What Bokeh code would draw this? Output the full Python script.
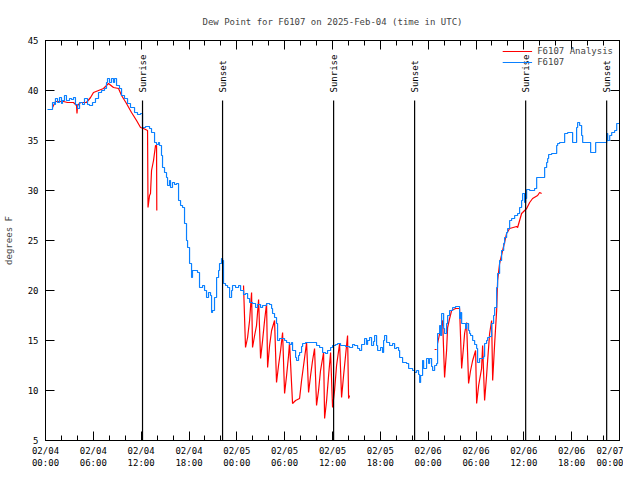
import math
from bokeh.plotting import figure
from bokeh.models import FixedTicker, LinearAxis, Range1d, Legend, LegendItem
from bokeh.core.properties import value
from bokeh.embed import file_html
from bokeh.resources import INLINE

NAN = float("nan")

TITLE = "Dew Point for F6107 on 2025-Feb-04 (time in UTC)"
Y_LABEL = "degrees F"

# x tick positions (hours since 02/04 00:00 UTC) and labels
x_major = [0, 6, 12, 18, 24, 30, 36, 42, 48, 54, 60, 66, 72]
x_minor = list(range(0, 73, 2))
x_labels = ["02/04\n00:00", "02/04\n06:00", "02/04\n12:00", "02/04\n18:00",
            "02/05\n00:00", "02/05\n06:00", "02/05\n12:00", "02/05\n18:00",
            "02/06\n00:00", "02/06\n06:00", "02/06\n12:00", "02/06\n18:00",
            "02/07\n00:00"]
y_ticks = [5, 10, 15, 20, 25, 30, 35, 40, 45]

# Sun events (hours since 02/04 00:00 UTC)
sun_hours = [12.17, 22.21, 36.14, 46.30, 60.23, 70.39]
sun_labels = ["Sunrise", "Sunset", "Sunrise", "Sunset", "Sunrise", "Sunset"]

# F6107 observations
obs_hours = [
    0.25, 0.75, 0.88, 1.13, 1.25, 1.51, 1.76, 2.01, 2.13, 2.38,
    2.63, 3.01, 3.26, 3.51, 3.76, 4.02, 4.27, 4.64, 4.89, 5.27,
    5.52, 5.90, 6.27, 6.65, 7.03, 7.40, 7.65, 7.78, 8.03, 8.28,
    8.53, 8.66, 8.91, 9.28, 9.54, 9.91, 10.29, 10.66, 11.17, 11.54,
    11.92, 12.17, 12.55, 13.05, 13.30, 13.68, 13.93, 14.18, 14.30, 14.55,
    14.68, 14.93, 15.18, 15.31, 15.56, 15.68, 15.93, 16.19, 16.44, 16.69,
    16.94, 17.19, 17.44, 17.69, 17.82, 18.07, 18.32, 18.44, 18.82, 19.07,
    19.32, 19.70, 19.95, 20.20, 20.45, 20.70, 20.83, 20.95, 21.20, 21.46,
    21.71, 21.83, 22.08, 22.21, 22.33, 22.58, 22.84, 23.09, 23.34, 23.46,
    23.84, 24.22, 24.47, 24.72, 24.84, 25.09, 25.35, 25.60, 25.97, 26.35,
    26.60, 26.98, 27.23, 27.48, 27.73, 28.11, 28.36, 28.48, 28.73, 28.98,
    29.11, 29.36, 29.61, 29.99, 30.24, 30.61, 30.87, 30.99, 31.37, 31.49,
    31.74, 31.87, 32.12, 32.25, 32.62, 33.12, 33.63, 34.00, 34.38, 34.76,
    35.13, 35.38, 35.76, 36.01, 36.39, 36.64, 37.01, 37.26, 37.64, 38.14,
    38.52, 38.77, 39.15, 39.40, 39.65, 40.03, 40.28, 40.40, 40.65, 40.90,
    41.15, 41.28, 41.53, 41.66, 42.03, 42.28, 42.41, 42.53, 42.79, 43.16,
    43.54, 43.79, 44.04, 44.29, 44.42, 44.79, 45.04, 45.29, 45.55, 45.80,
    46.05, 46.30, 46.55, 46.80, 46.93, 47.05, 47.30, 47.43, 47.80, 48.06,
    48.18, 48.43, 48.56, 48.81, 49.06, 49.18, 49.44, 49.56, 49.69, 49.94,
    50.06, 50.31, 50.44, 50.69, 51.07, 51.44, 51.82, 51.94, 52.07, 52.20,
    52.45, 52.70, 52.82, 53.07, 53.20, 53.32, 53.58, 53.83, 54.08, 54.20,
    54.45, 54.70, 54.96, 55.08, 55.33, 55.46, 55.71, 55.96, 56.21, 56.34,
    56.59, 56.71, 56.96, 57.21, 57.47, 57.59, 57.84, 57.97, 58.22, 58.47,
    58.85, 59.22, 59.47, 59.72, 59.85, 60.10, 60.23, 60.35, 60.73, 61.10,
    61.35, 61.61, 61.98, 62.36, 62.61, 62.86, 62.99, 63.11, 63.49, 63.86,
    64.12, 64.24, 64.49, 64.87, 65.12, 65.50, 66.00, 66.12, 66.50, 66.62,
    66.75, 67.00, 67.25, 67.38, 67.88, 68.26, 68.38, 68.63, 69.01, 69.51,
    70.14, 70.39, 70.52, 70.77, 71.02, 71.39, 71.65, 71.95,
]
obs_dewpt = [
    38.1, 38.1, 38.8, 38.6, 39.2, 38.8, 39.3, 38.7, 39.0, 39.5,
    39.0, 39.2, 39.1, 39.3, 38.6, 38.2, 38.8, 38.6, 39.2, 38.6,
    38.5, 38.8, 39.2, 39.8, 40.0, 40.2, 40.8, 41.2, 40.8, 41.2,
    40.8, 41.2, 40.5, 40.2, 39.5, 39.2, 38.7, 38.3, 37.8, 37.6,
    37.7, 36.3, 36.4, 36.2, 35.8, 34.8, 34.6, 34.8, 34.5, 33.5,
    32.3, 31.8, 31.3, 30.5, 31.0, 30.3, 30.8, 30.6, 30.7, 29.0,
    28.5, 28.3, 26.7, 25.0, 24.3, 22.7, 21.3, 22.0, 22.0, 21.8,
    20.3, 20.5, 20.0, 19.3, 19.8, 19.5, 17.8, 18.0, 19.3, 21.3,
    22.0, 22.7, 23.2, 23.0, 20.7, 20.5, 20.3, 19.3, 20.0, 20.5,
    20.3, 20.5, 20.0, 20.0, 19.6, 19.7, 19.2, 18.8, 18.7, 18.3,
    18.6, 18.3, 18.5, 18.5, 18.7, 18.6, 18.2, 17.7, 17.3, 16.7,
    15.0, 15.2, 15.2, 15.0, 14.8, 14.6, 14.8, 14.0, 13.3, 13.0,
    13.5, 13.8, 14.4, 14.7, 14.8, 14.8, 14.8, 14.5, 14.3, 13.8,
    13.7, 14.0, 14.3, 14.5, 14.6, 14.7, 14.5, 14.5, 14.4, 14.3,
    14.6, 14.5, 14.2, 14.0, 14.6, 15.2, 14.6, 15.0, 15.3, 14.5,
    14.9, 15.5, 14.5, 14.0, 14.3, 13.8, 15.0, 15.5, 14.8, 14.5,
    14.7, 14.2, 14.3, 14.0, 13.3, 12.8, 12.8, 12.7, 12.2, 12.2,
    12.0, 11.8, 12.0, 11.6, 10.8, 11.5, 13.0, 12.2, 13.2, 12.7,
    13.2, 12.4, 12.0, 12.5, 12.7, 15.7, 16.5, 15.5, 17.7, 16.2,
    15.7, 16.7, 17.5, 18.0, 18.3, 18.4, 18.4, 17.2, 17.8, 16.7,
    16.7, 16.2, 16.7, 16.0, 15.7, 15.5, 15.0, 14.6, 14.2, 12.8,
    13.2, 13.2, 13.4, 14.7, 15.0, 15.3, 15.4, 16.7, 17.5, 18.3,
    20.3, 21.7, 23.0, 24.0, 24.7, 25.3, 25.8, 26.2, 27.0, 27.2,
    27.5, 27.7, 28.3, 29.0, 29.7, 28.8, 29.2, 30.1, 30.0, 30.0,
    30.2, 31.3, 31.3, 31.3, 32.3, 32.8, 33.2, 33.6, 33.7, 33.7,
    34.5, 34.7, 34.8, 34.8, 35.7, 35.8, 35.8, 34.8, 34.8, 36.3,
    36.8, 36.5, 35.5, 34.8, 34.8, 34.8, 33.8, 33.8, 34.8, 34.8,
    34.8, 35.7, 35.0, 35.5, 35.8, 36.0, 36.7, 36.7,
]

# F6107 Analysis (NaN = no analysis -> gap)
ana_hours = [
    0.88, 1.25, 1.76, 2.26, 2.76, 3.51, 3.89, 3.95, 4.02, 4.39,
    5.14, 5.65, 6.02, 6.65, 7.28, 7.90, 8.53, 9.16, 9.54, 10.16,
    10.79, 11.42, 11.92, 12.30, 12.80, 12.86, 13.05, 13.17, 13.30, 13.55,
    13.80, 13.93, 13.96, 13.98,
    24.84, 25.09, 25.35, 25.60, 25.85, 25.97, 26.23, 26.47, 26.73, 26.98,
    27.23, 27.48, 27.73, 27.86, 28.11, 28.36, 28.73, 28.98, 29.23, 29.49,
    29.74, 29.99, 30.24, 30.49, 30.61, 30.99, 31.37, 31.87, 32.12, 32.37,
    32.75, 33.00, 33.25, 33.50, 33.75, 34.00, 34.25, 34.50, 34.88, 35.01,
    35.26, 35.51, 35.76, 36.01, 36.26, 36.51, 36.89, 37.14, 37.39, 37.64,
    37.89, 38.02, 38.14, 38.16,
    48.81, 49.06, 49.08,
    49.18, 49.44, 49.81, 50.06, 50.31, 50.44, 50.69, 50.94, 51.44, 51.94,
    52.20, 52.45, 52.57, 52.82, 53.07, 53.32, 53.58, 53.95, 54.08, 54.33,
    54.70, 54.83, 55.08, 55.33, 55.46, 55.71, 55.96, 56.09, 56.34, 56.59,
    56.71, 56.96, 57.34, 57.84, 58.22, 59.10, 59.22, 59.72, 59.85, 60.35,
    60.73, 61.10, 61.73, 61.98, 62.23,
]
ana_dewpt = [
    38.3, 38.9, 38.9, 38.9, 38.8, 38.8, 38.5, 37.7, 38.5, 38.8,
    38.8, 39.3, 39.8, 40.0, 40.2, 40.7, 40.3, 40.2, 39.5, 38.7,
    37.8, 37.0, 36.3, 36.2, 36.0, 28.3, 29.5, 29.7, 32.0, 33.0,
    34.5, 34.5, 28.0, NAN,
    20.5, 14.3, 15.3, 17.0, 19.8, 14.3, 15.5, 16.5, 19.1, 13.2,
    15.0, 17.0, 18.7, 12.3, 14.5, 16.0, 17.0, 10.8, 12.5, 14.0,
    15.8, 9.7, 11.5, 13.5, 14.8, 8.7, 9.0, 9.2, 11.0, 12.5,
    14.8, 9.8, 11.5, 13.0, 14.2, 8.5, 10.0, 12.0, 13.8, 7.2,
    9.0, 11.5, 13.8, 8.3, 10.0, 12.5, 14.7, 9.3, 11.5, 13.5,
    15.5, 9.2, 9.5, NAN,
    14.1, 14.1, NAN,
    14.7, 15.7, 17.0, 11.3, 14.0, 16.3, 17.2, 18.0, 18.2, 18.2,
    12.2, 14.5, 15.7, 16.8, 10.7, 12.0, 13.0, 14.0, 8.7, 10.5,
    12.2, 14.5, 9.0, 11.5, 13.0, 15.7, 17.0, 11.0, 14.7, 18.0,
    21.0, 22.7, 24.0, 25.7, 26.2, 26.4, 26.3, 27.7, 27.8, 28.2,
    28.8, 29.2, 29.5, 29.8, 29.7,
]

assert len(obs_hours) == len(obs_dewpt)
assert len(ana_hours) == len(ana_dewpt)

FONT = "DejaVu Sans Mono"
FS = "9px"
BLUE = "#0a80ff"
RED = "#ff0000"

Y0, Y1 = 5, 45
SUN_TOP = Y0 + 0.85 * (Y1 - Y0)

p = figure(frame_width=574, frame_height=400, output_backend="svg",
           toolbar_location=None,
           x_range=Range1d(0, 72), y_range=Range1d(Y0, Y1),
           min_border_left=42, min_border_right=4, min_border_top=40,
           min_border_bottom=26, title=TITLE)
p.xgrid.visible = False
p.ygrid.visible = False
p.outline_line_color = "black"
p.outline_line_alpha = 1
p.outline_line_width = 1
p.background_fill_color = "white"
p.border_fill_color = "white"

p.title.text_font = FONT
p.title.text_font_size = FS
p.title.text_font_style = "normal"
p.title.align = "center"
p.title.standoff = 28


def style(ax, minor=True):
    ax.major_tick_in = 9
    ax.major_tick_out = 0
    ax.minor_tick_in = 5 if minor else 0
    ax.minor_tick_out = 0
    ax.axis_line_color = "black"
    ax.major_tick_line_color = "black"
    ax.minor_tick_line_color = "black" if minor else None
    ax.major_label_text_font = FONT
    ax.major_label_text_font_size = FS
    ax.major_label_text_color = "black"


p.xaxis.ticker = FixedTicker(ticks=x_major, minor_ticks=x_minor)
p.xaxis.major_label_overrides = {t: lab for t, lab in zip(x_major, x_labels)}
p.xaxis.major_label_standoff = 5
style(p.xaxis[0])

p.yaxis.ticker = FixedTicker(ticks=y_ticks, minor_ticks=[])
p.yaxis.axis_label = Y_LABEL
p.yaxis.axis_label_text_font = FONT
p.yaxis.axis_label_text_font_size = FS
p.yaxis.axis_label_text_font_style = "normal"
p.yaxis.axis_label_standoff = 11
p.yaxis.major_label_standoff = 7
style(p.yaxis[0], minor=False)

# mirrored tick marks (no labels) on top and right
top = LinearAxis(ticker=FixedTicker(ticks=x_major, minor_ticks=x_minor))
style(top)
top.major_label_text_color = None
top.major_label_standoff = 0
p.add_layout(top, "above")

right = LinearAxis(ticker=FixedTicker(ticks=y_ticks, minor_ticks=[]))
style(right, minor=False)
right.major_label_text_color = None
right.major_label_standoff = 0
p.add_layout(right, "right")

r_ana = p.line(ana_hours, ana_dewpt, color=RED, line_width=1.2)
r_obs = p.step(obs_hours, obs_dewpt, mode="after", color=BLUE, line_width=1.2)

p.segment(x0=sun_hours, y0=[Y0] * len(sun_hours), x1=sun_hours,
          y1=[SUN_TOP] * len(sun_hours), color="black", line_width=1.2)
p.text(x=sun_hours, y=[SUN_TOP + 0.8] * len(sun_hours), text=sun_labels,
       angle=math.pi / 2, text_align="left", text_baseline="middle",
       text_font=value(FONT), text_font_size=FS, text_color="black")

legend = Legend(items=[LegendItem(label="F6107 Analysis", renderers=[r_ana]),
                       LegendItem(label="F6107", renderers=[r_obs])],
                location="top_right", background_fill_alpha=0,
                border_line_alpha=0, label_text_font=FONT,
                label_text_font_size=FS, glyph_width=30, glyph_height=10,
                label_height=10, spacing=1, padding=2, margin=4)
p.add_layout(legend)

open("out.html", "w").write(file_html(p, INLINE))
